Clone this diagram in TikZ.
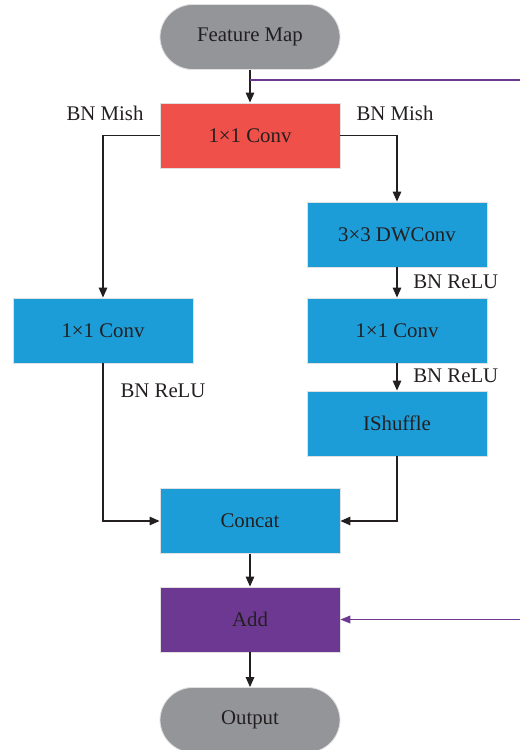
\documentclass[tikz,border=0pt]{standalone}
\usepackage{fontspec}
\setmainfont{Liberation Serif}
\usetikzlibrary{arrows.meta,calc}
\definecolor{mapgray}{HTML}{939598}
\definecolor{convred}{HTML}{EF5049}
\definecolor{convblue}{HTML}{1D9DD8}
\definecolor{addpurple}{HTML}{6C3891}
\definecolor{txt}{HTML}{231F20}
\begin{document}
\begin{tikzpicture}[x=0.025cm, y=-0.025cm, >={Triangle[length=7pt,width=6pt]}, font=\fontsize{14.8}{17}\selectfont]
		\tikzset{box/.style={draw=black!12, line width=0.6pt, minimum width=4.5cm, minimum height=1.625cm, inner sep=0pt, text=txt},
			pill/.style={box, rounded corners=0.82cm, fill=mapgray},
			lbl/.style={text=txt, inner sep=0pt},
			link/.style={->, line width=0.8pt, draw=txt},
			skip/.style={line width=0.75pt, draw=addpurple}}
		\useasboundingbox (0,0) rectangle (520,750);
		% main column
		\node[pill] (fmap) at (250,37) {Feature Map};
		\node[box, fill=convred] (conv1) at (250,135.5) {1×1 Conv};
		\node[box, fill=convblue] (concat) at (250,521) {Concat};
		\node[box, fill=addpurple] (add) at (250,619.5) {Add};
		\node[pill] (out) at (250,720) {Output};
		% left branch
		\node[box, fill=convblue] (lconv) at (103,330.5) {1×1 Conv};
		% right branch
		\node[box, fill=convblue] (dwconv) at (397,234.5) {3×3 DWConv};
		\node[box, fill=convblue] (rconv) at (397,330.5) {1×1 Conv};
		\node[box, fill=convblue] (shuf) at (397,423.5) {IShuffle};
		% labels
		\node[lbl] (lmish) at (105,113) {BN Mish};
		\node[lbl] (rmish) at (395,113) {BN Mish};
		\node[lbl, anchor=west] (relu1) at (413,282) {BN ReLU};
		\node[lbl, anchor=west] (relu2) at (413,376) {BN ReLU};
		\node[lbl] (relu3) at (163,391) {BN ReLU};
		% connectors
		\draw[link] (fmap) -- (conv1);
		\draw[link] (conv1.west) -| (lconv.north);
		\draw[link] (conv1.east) -| (dwconv.north);
		\draw[link] (dwconv) -- (rconv);
		\draw[link] (rconv) -- (shuf);
		\draw[link] (lconv.south) |- (concat.west);
		\draw[link] (shuf.south) |- (concat.east);
		\draw[link] (concat) -- (add);
		\draw[link] (add) -- (out);
		% shortcut
		\coordinate (tap) at (250,80);
		\coordinate (sk1) at (520,80);
		\coordinate (sk2) at (520,619.5);
		\draw[skip] (tap) -- (sk1);
		\draw[skip, ->, >={Triangle[length=7pt,width=5.5pt]}] (sk2) -- (add.east);
	\end{tikzpicture}
\end{document}
